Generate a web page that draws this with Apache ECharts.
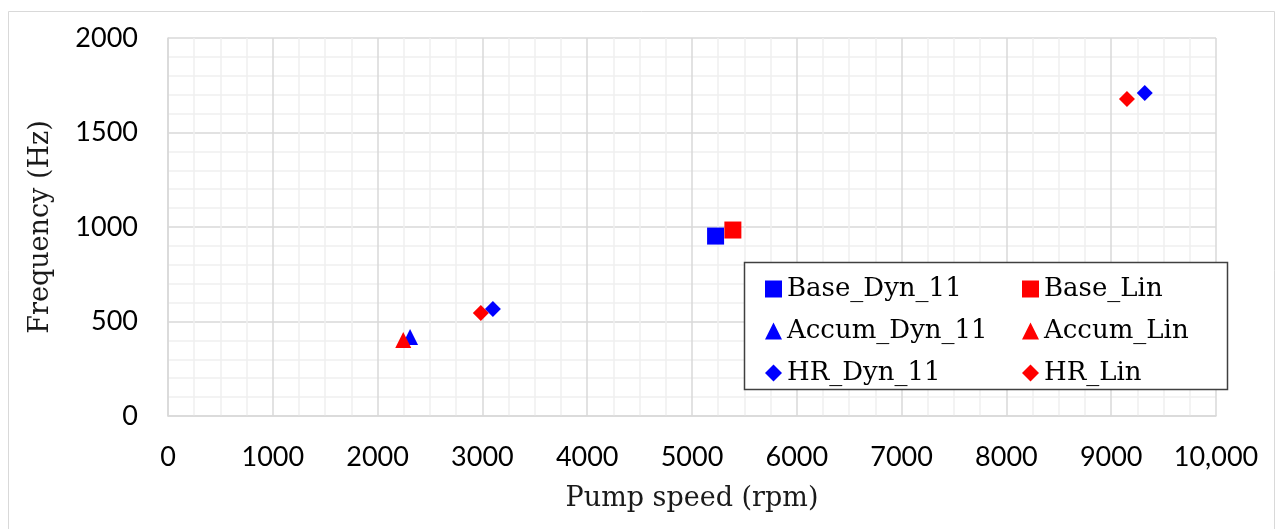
<!DOCTYPE html>
<html>
<head>
<meta charset="utf-8">
<script src="https://cdn.jsdelivr.net/npm/echarts@6/dist/echarts.min.js"></script>
<style>
html,body{margin:0;padding:0;background:#fff;}
#chart{width:1276px;height:529px;}
</style>
</head>
<body>
<div id="chart"></div>
<script>
// Data
const seriesNames = ['Base_Dyn_11','Base_Lin','Accum_Dyn_11','Accum_Lin','HR_Dyn_11','HR_Lin'];
const baseDyn11 = [[5225, 952]];
const baseLin = [[5390, 984]];
const accumDyn11 = [[2310, 418]];
const accumLin = [[2245, 402]];
const hrDyn11 = [[3100, 566], [9320, 1709]];
const hrLin = [[2985, 545], [9150, 1677]];
const xTickLabels = {0:'0',1000:'1000',2000:'2000',3000:'3000',4000:'4000',5000:'5000',6000:'6000',7000:'7000',8000:'8000',9000:'9000',10000:'10,000'};
const yTickLabels = {0:'0',500:'500',1000:'1000',1500:'1500',2000:'2000'};

const BLUE = '#0000ff', RED = '#ff0000';
const serif = '"DejaVu Serif", "Liberation Serif", serif';
const sans = 'Lato, "Open Sans", sans-serif';

const chart = echarts.init(document.getElementById('chart'), null, {renderer:'canvas'});

function sc(name, data, symbol, size, color){
  return {name, type:'scatter', data, symbol, symbolSize:size,
    itemStyle:{color, opacity:1}, emphasis:{disabled:true}, z:5};
}

chart.setOption({
  animation:false,
  backgroundColor:'#fff',
  grid:{left:168, right:60, top:38, bottom:113, containLabel:false},
  xAxis:{
    type:'value', min:0, max:10000, interval:1000,
    name:'Pump speed (rpm)', nameLocation:'middle', nameGap:69,
    nameTextStyle:{fontFamily:serif, fontSize:27, color:'#1a1a1a'},
    axisLine:{show:true, lineStyle:{color:'#d9d9d9', width:1.5}},
    axisTick:{show:false},
    axisLabel:{margin:28, fontFamily:sans, fontSize:27, color:'#000',
      formatter:v=>xTickLabels[v]!==undefined?xTickLabels[v]:''},
    splitLine:{show:true, lineStyle:{color:'#d9d9d9', width:1.5}},
    minorTick:{show:false, splitNumber:4},
    minorSplitLine:{show:true, lineStyle:{color:'#f0f0f0', width:1.5}}
  },
  yAxis:{
    type:'value', min:0, max:2000, interval:500,
    name:'Frequency (Hz)', nameLocation:'middle', nameGap:114, nameRotate:90,
    nameTextStyle:{fontFamily:serif, fontSize:27, color:'#1a1a1a'},
    axisLine:{show:true, lineStyle:{color:'#d9d9d9', width:1.5}},
    axisTick:{show:false},
    axisLabel:{margin:30, fontFamily:sans, fontSize:27, color:'#000',
      formatter:v=>yTickLabels[v]!==undefined?yTickLabels[v]:''},
    splitLine:{show:true, lineStyle:{color:'#d9d9d9', width:1.5}},
    minorTick:{show:false, splitNumber:5},
    minorSplitLine:{show:true, lineStyle:{color:'#f0f0f0', width:1.5}}
  },
  legend:[
    {data:[seriesNames[0],seriesNames[2],seriesNames[4]], orient:'vertical', left:760, top:269,
     itemWidth:17, itemHeight:17, itemGap:12, selectedMode:false,
     textStyle:{fontFamily:serif, fontSize:26, color:'#000', lineHeight:30, padding:[0,0,0,0]}},
    {data:[seriesNames[1],seriesNames[3],seriesNames[5]], orient:'vertical', left:1017, top:269,
     itemWidth:17, itemHeight:17, itemGap:12, selectedMode:false,
     textStyle:{fontFamily:serif, fontSize:26, color:'#000', lineHeight:30, padding:[0,0,0,0]}}
  ],
  graphic:[
    {type:'rect', shape:{x:8.5, y:11.5, width:1266, height:530}, style:{fill:null, stroke:'#d9d9d9', lineWidth:1}, z:-1, silent:true},
    {type:'rect', shape:{x:744.5, y:262.5, width:483, height:127}, style:{fill:'#fff', stroke:'#404040', lineWidth:1.5}, z:1, silent:true}
  ],
  series:[
    sc(seriesNames[0], baseDyn11, 'rect', 17, BLUE),
    sc(seriesNames[1], baseLin, 'rect', 17, RED),
    sc(seriesNames[2], accumDyn11, 'triangle', 16, BLUE),
    sc(seriesNames[3], accumLin, 'triangle', 16, RED),
    sc(seriesNames[4], hrDyn11, 'diamond', 16, BLUE),
    sc(seriesNames[5], hrLin, 'diamond', 16, RED)
  ]
});
</script>
</body>
</html>
